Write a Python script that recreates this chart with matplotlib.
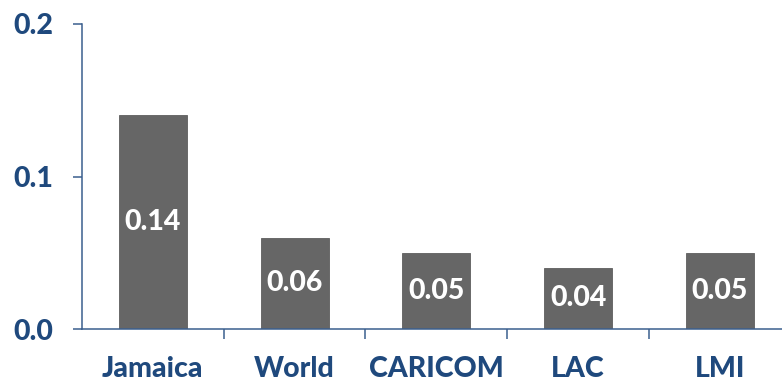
import matplotlib
matplotlib.use("Agg")
import matplotlib.pyplot as plt
import numpy as np

categories = ["Jamaica", "World", "CARICOM", "LAC", "LMI"]
values = [0.14, 0.06, 0.05, 0.04, 0.05]
value_labels = ["0.14", "0.06", "0.05", "0.04", "0.05"]
yticks = [0.0, 0.1, 0.2]
ytick_labels = ["0.0", "0.1", "0.2"]

navy = "#1F497D"
axis_col = "#3B5F8E"
bar_col = "#666666"

plt.rcParams["font.family"] = ["Lato", "DejaVu Sans"]
heavy = 900

fig = plt.figure(figsize=(7.82, 3.83), dpi=100)
ax = fig.add_axes([82 / 782, 54 / 383, 708.7 / 782, 305 / 383])

x = np.arange(len(categories))
ax.bar(x, values, width=0.48, color=bar_col, edgecolor="#5e5e5e", linewidth=0.6, zorder=2)

for xi, v, lab in zip(x, values, value_labels):
    ax.text(xi, v / 2, lab, ha="center", va="center", color="white",
            fontsize=20.5, fontweight=heavy, zorder=3)

ax.set_xlim(-0.5, len(categories) - 0.5)
ax.set_ylim(0, 0.2)
ax.set_yticks(yticks)
ax.set_yticklabels(ytick_labels)
ax.set_xticks(x)
ax.set_xticklabels(categories)
ax.set_xticks(np.arange(0.5, len(categories) - 0.5, 1.0), minor=True)

ax.tick_params(axis="x", which="major", length=0, pad=19.5, labelsize=20.5,
               labelcolor=navy)
ax.tick_params(axis="x", which="minor", length=7.5, width=1.1, color=axis_col,
               direction="out")
ax.tick_params(axis="y", which="major", length=6.5, width=1.1, color=axis_col,
               direction="out", pad=14, labelsize=20.5, labelcolor=navy)
for lab in ax.get_xticklabels() + ax.get_yticklabels():
    lab.set_fontweight(heavy)

for side in ("top", "right"):
    ax.spines[side].set_visible(False)
for side in ("left", "bottom"):
    ax.spines[side].set_color(axis_col)
    ax.spines[side].set_linewidth(1.1)

fig.savefig("out.png", dpi=100, facecolor="white")
